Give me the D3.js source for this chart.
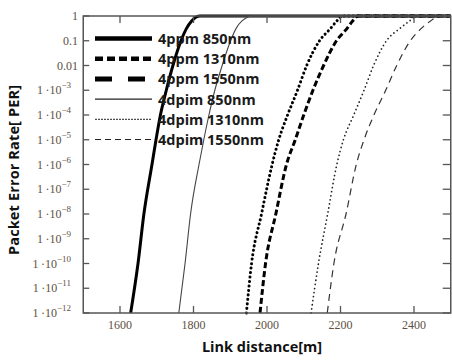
<!DOCTYPE html>
<html>
<head>
<meta charset="utf-8">
<script src="https://cdn.jsdelivr.net/npm/d3@7"></script>
<style>
  html, body { margin: 0; padding: 0; background: #fff; }
  svg { display: block; }
</style>
</head>
<body>
<svg id="chart" width="452" height="360"></svg>
<script>
// PER levels (log10) at which each curve's link distance is sampled
const perExponents = [-12, -10, -8, -6, -5, -4, -3, -2, -1, -0.5, -0.2, 0];

// Link distance [m] for each curve at those PER levels
const ppm850   = [1629, 1649, 1665, 1687, 1698, 1710, 1726, 1744, 1766, 1781, 1795, 1818];
const ppm1310  = [1944, 1958, 1985, 2014, 2032, 2056, 2083, 2108, 2143, 2173, 2190, 2205];
const ppm1550  = [1981, 1996, 2024, 2053, 2077, 2100, 2125, 2154, 2189, 2218, 2233, 2248];
const dpim850  = [1760, 1777, 1792, 1815, 1828, 1842, 1858, 1878, 1901, 1916, 1932, 1962];
const dpim1310 = [2120, 2140, 2165, 2190, 2208, 2236, 2264, 2290, 2325, 2362, 2388, 2407];
const dpim1550 = [2164, 2182, 2215, 2243, 2264, 2291, 2323, 2353, 2390, 2420, 2445, 2471];

const seriesNames = ["4ppm 850nm", "4ppm 1310nm", "4ppm 1550nm", "4dpim 850nm", "4dpim 1310nm", "4dpim 1550nm"];
const seriesValues = [ppm850, ppm1310, ppm1550, dpim850, dpim1310, dpim1550];

const xTicks = [1600, 1800, 2000, 2200, 2400];
const yTickExponents = [0, -1, -2, -3, -4, -5, -6, -7, -8, -9, -10, -11, -12];

// Styles
const lineColors  = ["#000", "#000", "#000", "#444", "#222", "#333"];
const lineWidths  = [3, 3, 3, 1.1, 1.7, 1.2];
const lineDashes  = [null, "0.1 4.4", "6 3", null, "0.1 4", "7 5"];
const lineCaps    = ["butt", "round", "butt", "butt", "round", "butt"];
const legendWidths = [4.5, 4.5, 5, 1.1, 1, 1];
const legendDashes = [null, "8 4", "17 16", null, "2 1", "6 4"];

const svg = d3.select("#chart");
const plotLeft = 83.25, plotRight = 450.75, plotTop = 16, plotBottom = 313;

const x = d3.scaleLinear().domain([1500, 2500]).range([plotLeft, plotRight]);
const y = d3.scaleLog().domain([1e-12, 1]).range([plotBottom, plotTop]);

const frameColor = "#555";
const labelColor = "#5e503f";

// Curves
const line = d3.line()
  .x(d => x(d[0]))
  .y(d => y(d[1]))
  .curve(d3.curveMonotoneX);

seriesValues.forEach((vals, i) => {
  const pts = vals.map((v, k) => [v, Math.pow(10, perExponents[k])]);
  pts.push([2500, 1]); // PER stays at 1 beyond saturation
  svg.append("path")
    .datum(pts)
    .attr("d", line)
    .attr("fill", "none")
    .attr("stroke", lineColors[i])
    .attr("stroke-width", lineWidths[i])
    .attr("stroke-dasharray", lineDashes[i])
    .attr("stroke-linecap", lineCaps[i]);
});

// Frame with inward ticks on all four sides
svg.append("rect")
  .attr("x", plotLeft).attr("y", plotTop)
  .attr("width", plotRight - plotLeft).attr("height", plotBottom - plotTop)
  .attr("fill", "none").attr("stroke", frameColor).attr("stroke-width", 1.5);

const tickLen = 7;
xTicks.forEach(t => {
  svg.append("line").attr("x1", x(t)).attr("x2", x(t)).attr("y1", plotBottom).attr("y2", plotBottom - tickLen)
    .attr("stroke", frameColor).attr("stroke-width", 1.3);
  svg.append("line").attr("x1", x(t)).attr("x2", x(t)).attr("y1", plotTop).attr("y2", plotTop + tickLen)
    .attr("stroke", frameColor).attr("stroke-width", 1.3);
  svg.append("text").attr("x", x(t)).attr("y", 329)
    .attr("text-anchor", "middle")
    .attr("font-family", "Liberation Serif, serif").attr("font-size", 12)
    .attr("fill", labelColor).text(t);
});

yTickExponents.forEach(e => {
  const yy = y(Math.pow(10, e));
  svg.append("line").attr("x1", plotLeft).attr("x2", plotLeft + 6).attr("y1", yy).attr("y2", yy)
    .attr("stroke", frameColor).attr("stroke-width", 1.3);
  svg.append("line").attr("x1", plotRight).attr("x2", plotRight - 8).attr("y1", yy).attr("y2", yy)
    .attr("stroke", frameColor).attr("stroke-width", 1.3);
  const t = svg.append("text")
    .attr("y", yy + 4)
    .attr("text-anchor", "end")
    .attr("font-family", "Liberation Serif, serif").attr("font-size", 12)
    .attr("fill", labelColor);
  if (e === 0) { t.attr("x", 78).text("1"); }
  else if (e === -1) { t.attr("x", 78).text("0.1"); }
  else if (e === -2) { t.attr("x", 78).text("0.01"); }
  else {
    t.attr("x", 71);
    t.append("tspan").text("1\u2009\u00B710");
    t.append("tspan").attr("dy", -6).attr("font-size", 9).text("\u2212" + (-e));
  }
});

// Axis titles
svg.append("text")
  .attr("x", 262).attr("y", 352)
  .attr("text-anchor", "middle")
  .attr("font-family", "Open Sans, sans-serif").attr("font-weight", "bold").attr("font-size", 14.5)
  .attr("fill", "#111")
  .text("Link distance[m]");

svg.append("text")
  .attr("transform", "translate(19,170) rotate(-90)")
  .attr("text-anchor", "middle")
  .attr("font-family", "Open Sans, sans-serif").attr("font-weight", "bold").attr("font-size", 14.5)
  .attr("textLength", 170)
  .attr("fill", "#111")
  .text("Packet Error Rate[ PER]");

// Legend
const legendY0 = 38.5, legendStep = 20.2;
seriesNames.forEach((name, i) => {
  const yy = legendY0 + i * legendStep;
  svg.append("line")
    .attr("x1", 95).attr("x2", 152).attr("y1", yy).attr("y2", yy)
    .attr("stroke", lineColors[i] === "#000" ? "#000" : "#222")
    .attr("stroke-width", legendWidths[i])
    .attr("stroke-dasharray", legendDashes[i]);
  svg.append("text")
    .attr("x", 158).attr("y", yy + 5.5)
    .attr("font-family", "Open Sans, sans-serif").attr("font-weight", "bold").attr("font-size", 14.5)
    .attr("fill", "#1a1a1a")
    .text(name);
});
</script>
</body>
</html>
